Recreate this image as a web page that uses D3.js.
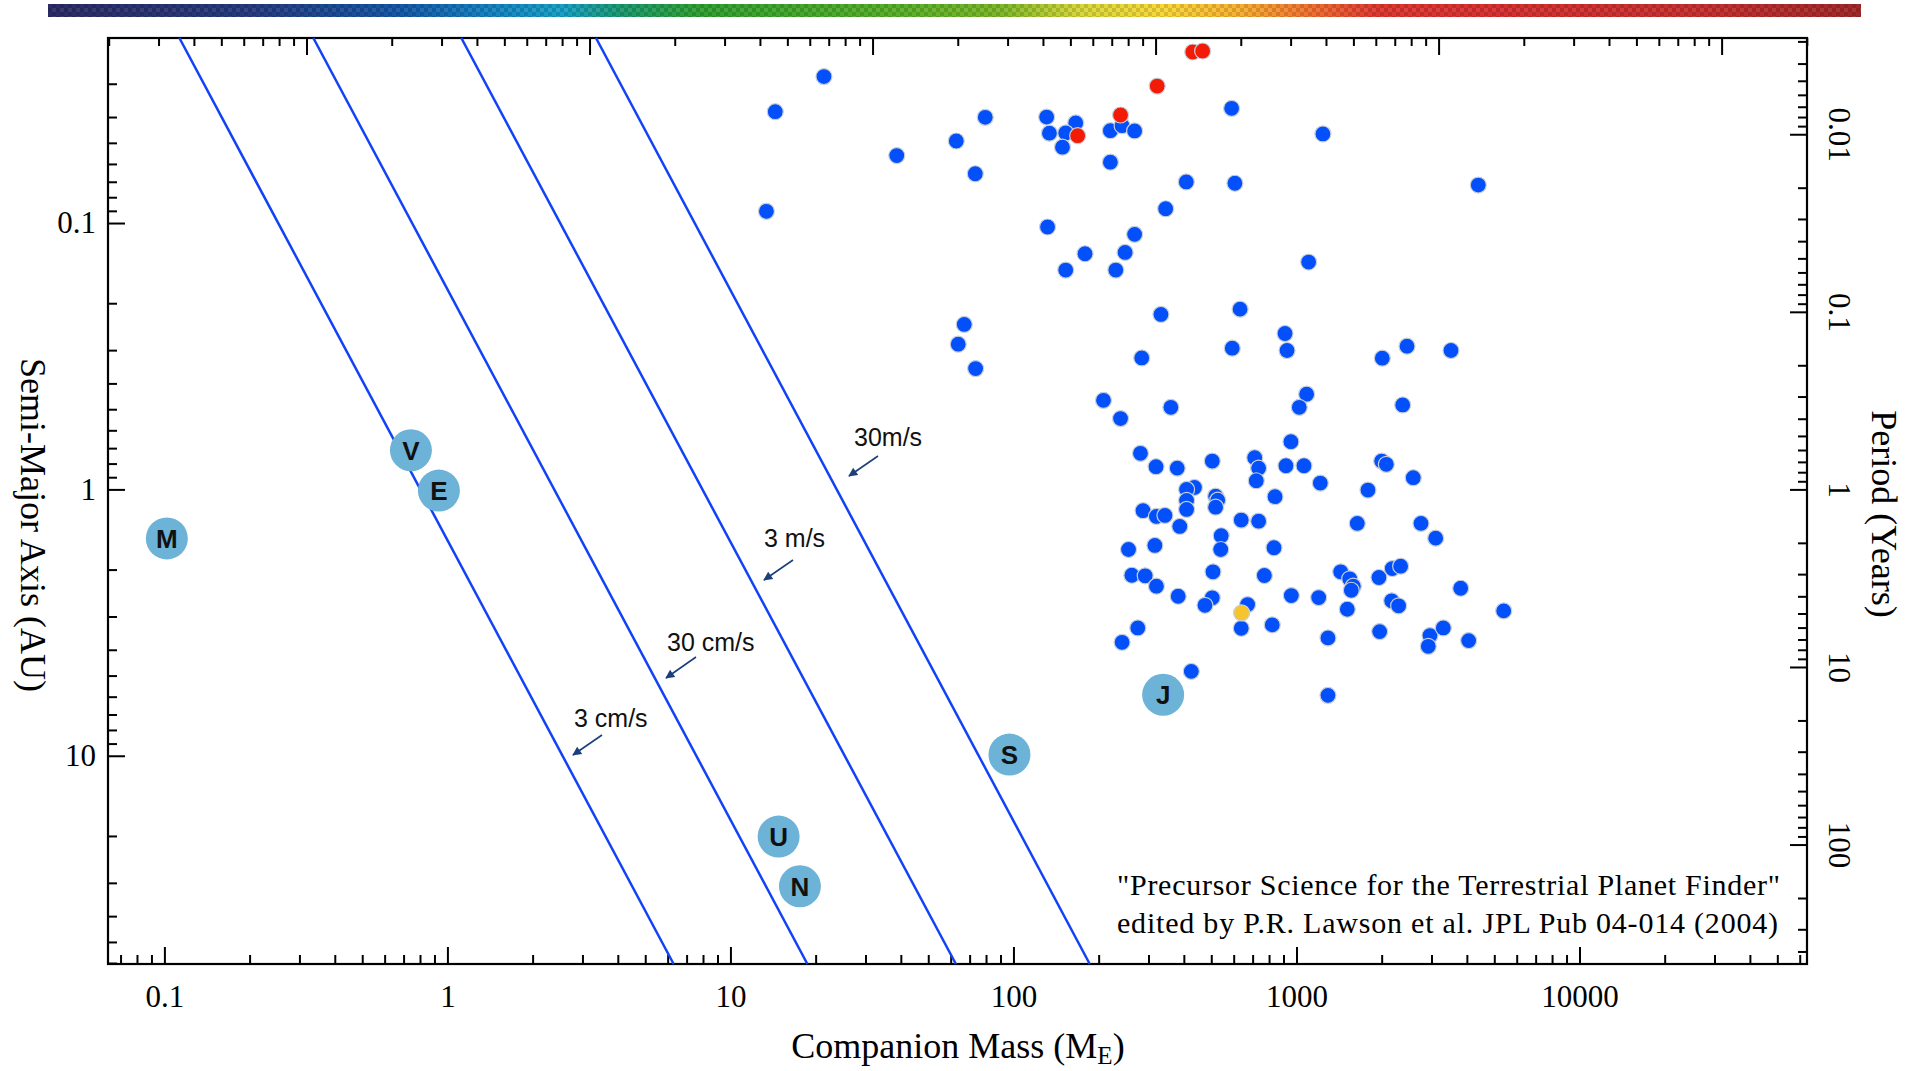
<!DOCTYPE html>
<html><head><meta charset="utf-8">
<script src="https://cdn.jsdelivr.net/npm/d3@7"></script>
<style>html,body{margin:0;padding:0;background:#fff;} svg{display:block;}</style>
</head><body><svg id="chart" width="1907" height="1071"></svg>
<script>
// ---------------- DATA ----------------
// Blue: known exoplanets, mass in Earth masses, semi-major axis in AU
const blueMass = [21.4,14.4,38.7,13.4,62.8,79.5,73.3,131,134,166,153,149,220,242,268,220,408,345,132,268,179,248,153,230,332,284,67.0,63.8,73.5,
  590,1240,606,4389,1104,632,593,911,926,2010,2458,3515,
  208,239,360,1086,1023,2373,956,281,319,379,504,712,735,721,918,1063,2000,2077,2586,1214,1789,436,409,409,409,518,527,518,840,287,320,343,387,638,735,1640,2754,3104,542,540,255,316,833,507,770,262,292,320,382,504,475,672,638,821,959,1198,1433,1542,1588,1562,1512,1956,2180,2334,2170,2296,3804,5398,1292,1968,2963,2922,3302,4059,275,242,425,1292];
const blueAxis = [0.0282,0.0382,0.0558,0.0904,0.0492,0.0401,0.0653,0.0400,0.0460,0.0421,0.0459,0.0519,0.0450,0.0431,0.0451,0.0591,0.0701,0.0884,0.1035,0.1103,0.1304,0.1289,0.1502,0.1502,0.2204,0.3209,0.2403,0.285,0.3518,
  0.0371,0.0463,0.0709,0.0720,0.1401,0.2105,0.2951,0.2598,0.301,0.3217,0.290,0.301,
  0.463,0.542,0.492,0.439,0.492,0.482,0.662,0.732,0.822,0.832,0.783,0.760,0.832,0.928,0.815,0.815,0.783,0.805,0.904,0.947,1.006,0.983,1.000,1.100,1.189,1.060,1.097,1.166,1.065,1.202,1.263,1.252,1.377,1.304,1.316,1.342,1.342,1.524,1.493,1.681,1.681,1.623,1.656,2.039,2.105,2.100,2.110,2.309,2.518,2.553,2.723,2.706,3.322,3.226,2.503,2.547,2.039,2.166,2.309,2.391,2.818,2.142,1.982,1.942,2.620,2.736,2.350,2.858,3.610,3.419,3.539,3.882,3.311,3.696,3.311,3.751,4.822,5.933];
// Red points
const redMass = [168.6,239,322,430,466];
const redAxis = [0.0470,0.0393,0.0306,0.0228,0.0226];
// Yellow point
const yellowMass = [640];
const yellowAxis = [2.908];
// Solar-system planets
const planetNames = ["M","V","E","U","N","S","J"];
const planetMass  = [0.102,0.743,0.933,14.8,17.6,96.8,338];
const planetAxis  = [1.528,0.713,1.01,20.1,30.9,9.9,5.90];
// Radial-velocity lines (mass at the top and at the bottom of the plot)
const rvLabels = ["3 cm/s","30 cm/s","3 m/s","30m/s"];
const rvMassTop = [0.113,0.336,1.12,3.35];
const rvMassBottom = [6.3,18.7,62.6,186];
const rvAxisEnds = [0.0202,60.5];
// Axes
const massDomain = [0.0632,63660];
const axisDomain = [0.0202,60.5];
const xTickValues = [0.1,1,10,100,1000,10000];
const xTickLabels = ["0.1","1","10","100","1000","10000"];
const yTickValues = [0.1,1,10];
const yTickLabels = ["0.1","1","10"];
const periodTickValues = [0.01,0.1,1,10,100];
const periodTickLabels = ["0.01","0.1","1","10","100"];
const EARTHS_PER_JUPITER = 317.8;
const colorbarStops = ["#2b2c66","#263a7e","#1458a8","#1480c0","#18a0c8","#1a9a70","#30a030","#58b028","#7ab828","#d8d838","#f8d838","#f8b030","#f06a30","#e03830","#d83030","#c83030","#a02828"];
const colorbarOffsets = [0,0.11,0.195,0.24,0.283,0.316,0.36,0.47,0.525,0.57,0.614,0.657,0.7,0.733,0.8,0.91,1];

// ---------------- LAYOUT ----------------
const L = 108, R = 1807, T = 38, B = 964;
const svg = d3.select("#chart");
svg.append("rect").attr("width",1907).attr("height",1071).attr("fill","#fff");
const serif = "'Liberation Serif','Times New Roman',serif";
const sans = "'Liberation Sans',Arial,sans-serif";

const x = d3.scaleLog().domain(massDomain).range([L,R]);
const xJ = d3.scaleLog().domain(massDomain.map(d=>d/EARTHS_PER_JUPITER)).range([L,R]);
const y = d3.scaleLog().domain(axisDomain).range([T,B]);
const yP = d3.scaleLog().domain(axisDomain.map(a=>Math.pow(a,1.5))).range([T,B]);

// colour bar
const defs = svg.append("defs");
const grad = defs.append("linearGradient").attr("id","cbar");
colorbarStops.forEach((c,i)=>grad.append("stop").attr("offset",colorbarOffsets[i]).attr("stop-color",c));
const pat = defs.append("pattern").attr("id","noise").attr("patternUnits","userSpaceOnUse").attr("width",8).attr("height",8);
pat.append("rect").attr("width",4).attr("height",4).attr("fill","#000").attr("opacity",0.13);
pat.append("rect").attr("x",4).attr("y",4).attr("width",4).attr("height",4).attr("fill","#000").attr("opacity",0.13);
pat.append("rect").attr("x",4).attr("y",0).attr("width",4).attr("height",4).attr("fill","#fff").attr("opacity",0.06);
svg.append("rect").attr("x",48).attr("y",4).attr("width",1813).attr("height",13).attr("fill","url(#cbar)");
svg.append("rect").attr("x",48).attr("y",4).attr("width",1813).attr("height",13).attr("fill","url(#noise)");

// arrow marker
defs.append("marker").attr("id","arr").attr("viewBox","0 0 10 10").attr("refX",9).attr("refY",5)
  .attr("markerWidth",11).attr("markerHeight",9).attr("markerUnits","userSpaceOnUse").attr("orient","auto")
  .append("path").attr("d","M0,0 L10,5 L0,10 z").attr("fill","#1b3f7a");

// ---------------- AXES ----------------
const isMajor = v => Math.abs(Math.log10(v) - Math.round(Math.log10(v))) < 1e-9;
function styleAxis(g){
  g.select(".domain").remove();
  g.selectAll(".tick line").attr("stroke","#000").attr("stroke-width",2);
  g.selectAll(".tick text").attr("font-family",serif).attr("font-size",31).attr("fill","#000");
}
// bottom
svg.append("g").attr("transform",`translate(0,${B})`)
  .call(d3.axisBottom(x).tickValues(x.ticks().filter(v=>!isMajor(v))).tickSize(-9).tickFormat("")).call(styleAxis);
svg.append("g").attr("transform",`translate(0,${B})`)
  .call(d3.axisBottom(x).tickValues(xTickValues).tickSize(-17).tickPadding(21).tickFormat((d,i)=>xTickLabels[i])).call(styleAxis);
// top (Jupiter masses, unlabeled)
svg.append("g").attr("transform",`translate(0,${T})`)
  .call(d3.axisTop(xJ).tickValues(xJ.ticks().filter(v=>!isMajor(v))).tickSize(-8).tickFormat("")).call(styleAxis);
svg.append("g").attr("transform",`translate(0,${T})`)
  .call(d3.axisTop(xJ).tickValues(xJ.ticks().filter(isMajor)).tickSize(-17).tickFormat("")).call(styleAxis);
// left
svg.append("g").attr("transform",`translate(${L},0)`)
  .call(d3.axisLeft(y).tickValues(y.ticks().filter(v=>!isMajor(v))).tickSize(-9).tickFormat("")).call(styleAxis);
svg.append("g").attr("transform",`translate(${L},0)`)
  .call(d3.axisLeft(y).tickValues(yTickValues).tickSize(-17).tickPadding(12).tickFormat((d,i)=>yTickLabels[i])).call(styleAxis);
// right (period)
svg.append("g").attr("transform",`translate(${R},0)`)
  .call(d3.axisRight(yP).tickValues(yP.ticks().filter(v=>!isMajor(v))).tickSize(-9).tickFormat("")).call(styleAxis);
const gR = svg.append("g").attr("transform",`translate(${R},0)`)
  .call(d3.axisRight(yP).tickValues(periodTickValues).tickSize(-17).tickFormat((d,i)=>periodTickLabels[i])).call(styleAxis);
gR.selectAll(".tick text").attr("x",null).attr("dy",null).attr("text-anchor","middle")
  .attr("transform","translate(22,0) rotate(90)");

// frame
svg.append("rect").attr("x",L).attr("y",T).attr("width",R-L).attr("height",B-T)
  .attr("fill","none").attr("stroke","#000").attr("stroke-width",2.2);

// axis titles
svg.append("text").attr("transform",`translate(21,525) rotate(90)`).attr("text-anchor","middle")
  .attr("font-family",serif).attr("font-size",36).text("Semi-Major Axis (AU)");
svg.append("text").attr("transform",`translate(1872,514) rotate(90)`).attr("text-anchor","middle")
  .attr("font-family",serif).attr("font-size",36).text("Period (Years)");
const xt = svg.append("text").attr("x",958).attr("y",1058).attr("text-anchor","middle")
  .attr("font-family",serif).attr("font-size",36);
xt.append("tspan").text("Companion Mass (M");
xt.append("tspan").attr("font-size",25).attr("dy",6).text("E");
xt.append("tspan").attr("dy",-6).text(")");

// ---------------- RV LINES ----------------
const plot = svg.append("g");
const line = d3.line().x(d=>x(d[0])).y(d=>y(d[1]));
rvLabels.forEach((lab,i)=>{
  plot.append("path").datum([[rvMassTop[i],rvAxisEnds[0]],[rvMassBottom[i],rvAxisEnds[1]]])
    .attr("d",line).attr("fill","none").attr("stroke","#1242f8").attr("stroke-width",2.5);
});
const rvLabelPos = [[574,727],[667,651],[764,547],[854,446]];
const rvArrow = [[[602,735],[573,755]],[[696,657],[666,678]],[[793,560],[764,580]],[[878,456],[849,476]]];
rvLabels.forEach((lab,i)=>{
  svg.append("text").attr("x",rvLabelPos[i][0]).attr("y",rvLabelPos[i][1]).attr("font-family",sans)
    .attr("font-size",25).attr("fill","#111").text(lab);
  svg.append("line").attr("x1",rvArrow[i][0][0]).attr("y1",rvArrow[i][0][1]).attr("x2",rvArrow[i][1][0]).attr("y2",rvArrow[i][1][1])
    .attr("stroke","#1b3f7a").attr("stroke-width",1.6).attr("marker-end","url(#arr)");
});

// ---------------- POINTS ----------------
function dots(masses, axes, color){
  plot.append("g").selectAll("circle").data(masses.map((m,i)=>[m,axes[i]])).join("circle")
    .attr("cx",d=>x(d[0])).attr("cy",d=>y(d[1])).attr("r",8)
    .attr("fill",color).attr("stroke","#c9d0da").attr("stroke-width",1.2);
}
dots(blueMass, blueAxis, "#0350fa");
dots(redMass, redAxis, "#f41b06");
dots(yellowMass, yellowAxis, "#f6c52e");

// planets
const pg = plot.append("g").selectAll("g").data(planetNames.map((n,i)=>({n,m:planetMass[i],a:planetAxis[i]}))).join("g")
  .attr("transform",d=>`translate(${x(d.m)},${y(d.a)})`);
pg.append("circle").attr("r",21).attr("fill","#6db3d8");
pg.append("text").attr("text-anchor","middle").attr("dy","0.36em").attr("font-family",sans)
  .attr("font-weight","bold").attr("font-size",26).attr("fill","#111").text(d=>d.n);

// citation
svg.append("text").attr("x",1117).attr("y",895).attr("font-family",serif).attr("font-size",30)
  .attr("textLength",663).attr("lengthAdjust","spacing").text('"Precursor Science for the Terrestrial Planet Finder"');
svg.append("text").attr("x",1117).attr("y",933).attr("font-family",serif).attr("font-size",30)
  .attr("textLength",661).attr("lengthAdjust","spacing").text("edited by P.R. Lawson et al. JPL Pub 04-014 (2004)");
</script></body></html>
